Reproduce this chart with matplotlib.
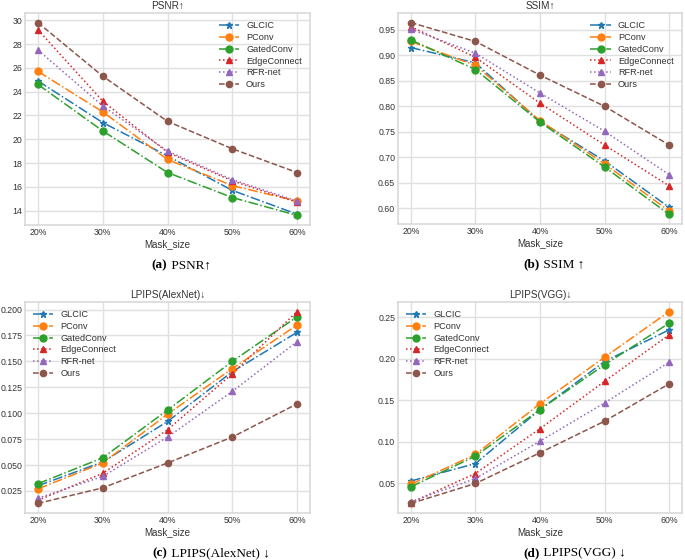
import matplotlib
matplotlib.use('Agg')
import matplotlib.pyplot as plt

plt.style.use('seaborn-v0_8-whitegrid')
plt.rcParams.update({
    'font.family': ['Liberation Sans', 'DejaVu Sans'],
    'axes.edgecolor': '#d9d9d9', 'axes.linewidth': 1.2,
    'grid.color': '#e0e0e0', 'grid.linewidth': 1.0,
    'xtick.color': '#333333', 'ytick.color': '#333333',
    'axes.labelcolor': '#333333', 'text.color': '#333333',
})

mask_sizes = ['20%', '30%', '40%', '50%', '60%']
methods = ['GLCIC', 'PConv', 'GatedConv', 'EdgeConnect', 'RFR-net', 'Ours']

psnr_glcic = [24.9, 21.4, 18.6, 15.7, 13.7]
psnr_pconv = [25.7, 22.3, 18.3, 16.1, 14.8]
psnr_gated = [24.6, 20.7, 17.2, 15.1, 13.6]
psnr_edge = [29.2, 23.2, 18.9, 16.5, 14.7]
psnr_rfr = [27.5, 22.8, 19.0, 16.6, 14.8]
psnr_ours = [29.8, 25.3, 21.5, 19.2, 17.2]

ssim_glcic = [0.915, 0.885, 0.770, 0.693, 0.602]
ssim_pconv = [0.927, 0.880, 0.772, 0.687, 0.595]
ssim_gated = [0.930, 0.872, 0.769, 0.681, 0.588]
ssim_edge = [0.956, 0.896, 0.806, 0.724, 0.644]
ssim_rfr = [0.951, 0.904, 0.826, 0.751, 0.666]
ssim_ours = [0.964, 0.927, 0.861, 0.800, 0.724]

alex_glcic = [0.030, 0.053, 0.092, 0.140, 0.178]
alex_pconv = [0.027, 0.052, 0.099, 0.143, 0.185]
alex_gated = [0.032, 0.057, 0.103, 0.150, 0.193]
alex_edge = [0.016, 0.042, 0.084, 0.138, 0.198]
alex_rfr = [0.018, 0.039, 0.077, 0.121, 0.169]
alex_ours = [0.013, 0.028, 0.052, 0.077, 0.109]

vgg_glcic = [0.053, 0.074, 0.139, 0.197, 0.235]
vgg_pconv = [0.049, 0.085, 0.146, 0.202, 0.257]
vgg_gated = [0.046, 0.083, 0.139, 0.193, 0.243]
vgg_edge = [0.027, 0.062, 0.116, 0.173, 0.229]
vgg_rfr = [0.028, 0.056, 0.101, 0.147, 0.196]
vgg_ours = [0.026, 0.050, 0.087, 0.125, 0.170]

# (color, linestyle, marker, markersize)
styles = [
    ('#1f77b4', '-.', '*', 4.5),
    ('#ff7f0e', '-.', 'o', 5),
    ('#2ca02c', '-.', 'o', 5),
    ('#d62728', ':', '^', 4),
    ('#9467bd', ':', '^', 4),
    ('#8c564b', '--', 'o', 4.5),
]

panels = [
    ([psnr_glcic, psnr_pconv, psnr_gated, psnr_edge, psnr_rfr, psnr_ours],
     'PSNR↑', '(a)', ' PSNR↑', 'upper right'),
    ([ssim_glcic, ssim_pconv, ssim_gated, ssim_edge, ssim_rfr, ssim_ours],
     'SSIM↑', '(b)', ' SSIM ↑', 'upper right'),
    ([alex_glcic, alex_pconv, alex_gated, alex_edge, alex_rfr, alex_ours],
     'LPIPS(AlexNet)↓', '(c)', ' LPIPS(AlexNet) ↓', 'upper left'),
    ([vgg_glcic, vgg_pconv, vgg_gated, vgg_edge, vgg_rfr, vgg_ours],
     'LPIPS(VGG)↓', '(d)', ' LPIPS(VGG) ↓', 'upper left'),
]

W, H = 685, 560
boxes = [  # left, top, right, bottom in pixels
    (25, 13, 310, 225),
    (398, 13, 682, 224),
    (25, 302, 310, 513),
    (398, 302, 682, 513),
]

fig = plt.figure(figsize=(6.85, 5.6), dpi=100)
x = list(range(len(mask_sizes)))
serif = ['Liberation Serif', 'DejaVu Serif']

for (series, title, tag, cap, loc), (l, t, r, b) in zip(panels, boxes):
    ax = fig.add_axes([l / W, 1 - b / H, (r - l) / W, (b - t) / H])
    for name, vals, (c, ls, mk, ms) in zip(methods, series, styles):
        ax.plot(x, vals, color=c, linestyle=ls, marker=mk, markersize=ms,
                linewidth=1.1, label=name)
    ax.set_xticks(x)
    ax.set_xticklabels(mask_sizes)
    ax.tick_params(labelsize=6.3, pad=2)
    ax.set_xlabel('Mask_size', fontsize=7, labelpad=2)
    ax.set_title(title, fontsize=7.2, pad=3)
    for sp in ax.spines.values():
        sp.set_visible(True)
    ax.legend(loc=loc, fontsize=6.6, frameon=False, handlelength=2.2,
              labelspacing=0.3, borderaxespad=0.5)
    cx = (l + r) / 2 / W
    cy = 1 - (b + 40) / H
    fig.text(cx, cy, tag, ha='right', va='center', fontsize=9.5,
             fontweight='bold', family=serif, color='black')
    fig.text(cx, cy, cap, ha='left', va='center', fontsize=9.5,
             family=serif, color='black')

fig.savefig('out.png', dpi=100, facecolor='white')
